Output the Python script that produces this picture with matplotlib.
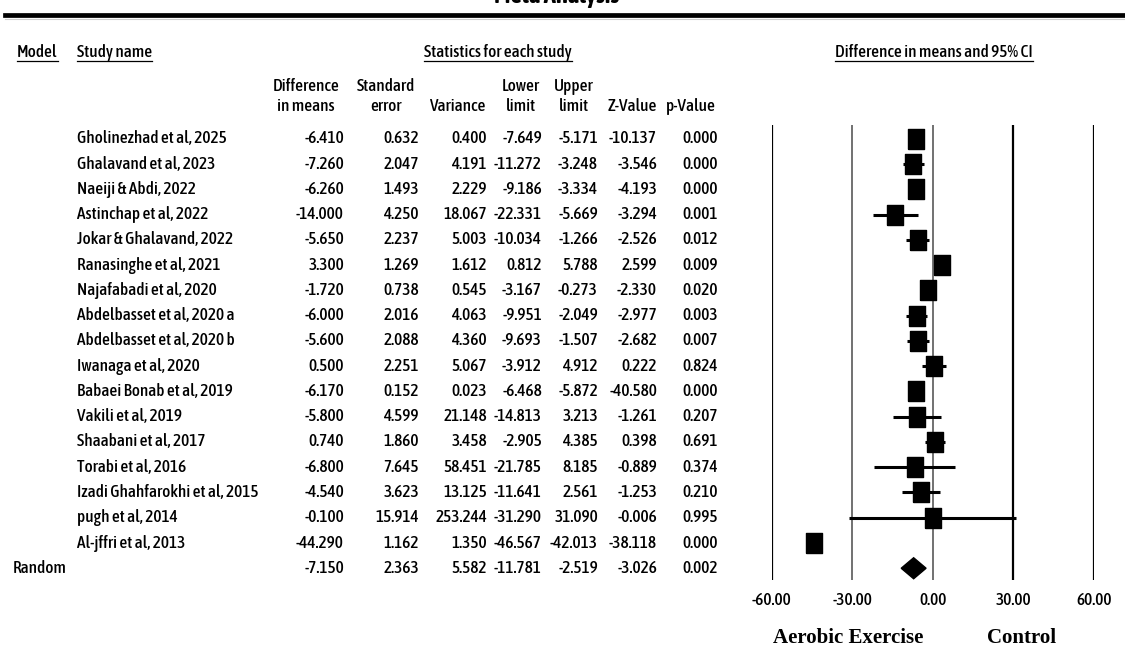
import matplotlib
matplotlib.use("Agg")
import matplotlib.pyplot as plt
import matplotlib.transforms as mtransforms
from matplotlib.lines import Line2D
from matplotlib.patches import Polygon
from matplotlib import font_manager as fm
from matplotlib.textpath import TextPath

# ---------------- data ----------------
studies = [
    "Gholinezhad et al, 2025", "Ghalavand et al, 2023", "Naeiji & Abdi, 2022",
    "Astinchap et al, 2022", "Jokar & Ghalavand, 2022", "Ranasinghe et al, 2021",
    "Najafabadi et al, 2020", "Abdelbasset et al, 2020 a", "Abdelbasset et al, 2020 b",
    "Iwanaga et al, 2020", "Babaei Bonab et al, 2019", "Vakili et al, 2019",
    "Shaabani et al, 2017", "Torabi et al, 2016", "Izadi Ghahfarokhi et al, 2015",
    "pugh et al, 2014", "Al-jffri et al, 2013",
]
diff = [-6.410, -7.260, -6.260, -14.000, -5.650, 3.300, -1.720, -6.000, -5.600,
        0.500, -6.170, -5.800, 0.740, -6.800, -4.540, -0.100, -44.290]
se = [0.632, 2.047, 1.493, 4.250, 2.237, 1.269, 0.738, 2.016, 2.088,
      2.251, 0.152, 4.599, 1.860, 7.645, 3.623, 15.914, 1.162]
variance = [0.400, 4.191, 2.229, 18.067, 5.003, 1.612, 0.545, 4.063, 4.360,
            5.067, 0.023, 21.148, 3.458, 58.451, 13.125, 253.244, 1.350]
lower = [-7.649, -11.272, -9.186, -22.331, -10.034, 0.812, -3.167, -9.951, -9.693,
         -3.912, -6.468, -14.813, -2.905, -21.785, -11.641, -31.290, -46.567]
upper = [-5.171, -3.248, -3.334, -5.669, -1.266, 5.788, -0.273, -2.049, -1.507,
         4.912, -5.872, 3.213, 4.385, 8.185, 2.561, 31.090, -42.013]
zval = [-10.137, -3.546, -4.193, -3.294, -2.526, 2.599, -2.330, -2.977, -2.682,
        0.222, -40.580, -1.261, 0.398, -0.889, -1.253, -0.006, -38.118]
pval = [0.000, 0.000, 0.000, 0.001, 0.012, 0.009, 0.020, 0.003, 0.007,
        0.824, 0.000, 0.207, 0.691, 0.374, 0.210, 0.995, 0.000]

pooled_label = "Random"
pooled_diff, pooled_se, pooled_var = -7.150, 2.363, 5.582
pooled_lower, pooled_upper = -11.781, -2.519
pooled_z, pooled_p = -3.026, 0.002

xticks = [-60, -30, 0, 30, 60]
head_line1 = ["Difference", "Standard", "", "Lower", "Upper", "", ""]
head_line2 = ["in means", "error", "Variance", "limit", "limit", "Z-Value", "p-Value"]
title = "Meta Analysis"
left_label = "Aerobic Exercise"
right_label = "Control"

# ---------------- fonts ----------------
available = {f.name for f in fm.fontManager.ttflist}


def pick(cands):
    for c in cands:
        if c in available:
            return c
    return "DejaVu Sans"


SANS = pick(["Asap Condensed", "Sofia Sans Condensed", "Archivo Narrow",
             "IBM Plex Sans Condensed", "Liberation Sans"])
SERIF = pick(["Liberation Serif", "Tinos", "DejaVu Serif"])
WT = 500


def width_px(text, family, size, weight="normal"):
    fp = fm.FontProperties(family=family, size=size, weight=weight)
    return TextPath((0, 0), text, prop=fp).get_extents().width * 100 / 72


FS = 10 * 148 / width_px("Gholinezhad et al, 2025", SANS, 10, WT)
FS_LAB = 10 * 150 / width_px(left_label, SERIF, 10, "bold")
FS_TITLE = 10 * 123 / width_px(title, SANS, 10, "bold")
plt.rcParams["font.family"] = [SANS, "DejaVu Sans"]
plt.rcParams["font.weight"] = WT

# ---------------- layout ----------------
W, H = 1125, 651
fig = plt.figure(figsize=(W / 100, H / 100), dpi=100)


def fx(px):
    return px / W


def fy(py):
    return 1 - py / H


ROW0, STEP = 139.0, 25.25
ax_top, ax_bot = 125.0, 580.0
xl_px, xr_px = 771.7, 1094.0
ax = fig.add_axes([fx(xl_px), fy(ax_bot), (xr_px - xl_px) / W, (ax_bot - ax_top) / H])
ax.set_xlim(-60, 60)
ax.set_ylim((ax_bot - ROW0) / STEP, (ax_top - ROW0) / STEP)
for s in ax.spines.values():
    s.set_visible(False)
ax.set_yticks([])
ax.set_xticks(xticks, labels=[f"{v:.2f}" for v in xticks])
ax.tick_params(axis="x", length=0, pad=8.5, labelsize=FS)

for v in xticks:
    if v in (-30, 0):
        ax.axvline(v, color="#4a4a4a", lw=1.1, zorder=1)
    else:
        ax.axvline(v, color="black", lw=1.6, zorder=1)

n = len(studies)
rows = list(range(n))
ax.hlines(rows, lower, upper, color="black", lw=2.2, zorder=3)
rect = [(-0.39, -0.5), (0.39, -0.5), (0.39, 0.5), (-0.39, 0.5), (-0.39, -0.5)]
ax.plot(diff, rows, linestyle="none", marker=rect, ms=14.4, color="black", zorder=4)

prow = n
h = 10.5 / STEP
ax.add_patch(Polygon([(pooled_lower, prow), (pooled_diff, prow - h),
                      (pooled_upper, prow), (pooled_diff, prow + h)],
                     closed=True, facecolor="black", edgecolor="black", zorder=4))

# ---------------- table ----------------
trans = mtransforms.blended_transform_factory(fig.transFigure, ax.transData)
right_edges = [344, 419, 487, 542, 598, 657, 718]
head_centers = [306, 386, 458, 521, 574, 632, 690]
columns = [diff, se, variance, lower, upper, zval, pval]
pooled_vals = [pooled_diff, pooled_se, pooled_var, pooled_lower, pooled_upper, pooled_z, pooled_p]

for i, name in enumerate(studies):
    ax.text(fx(77), i, name, transform=trans, ha="left", va="center", fontsize=FS)
    for j, col in enumerate(columns):
        ax.text(fx(right_edges[j]), i, f"{col[i]:.3f}", transform=trans,
                ha="right", va="center", fontsize=FS)
ax.text(fx(13), prow, pooled_label, transform=trans, ha="left", va="center", fontsize=FS)
for j, v in enumerate(pooled_vals):
    ax.text(fx(right_edges[j]), prow, f"{v:.3f}", transform=trans,
            ha="right", va="center", fontsize=FS)

for j in range(len(head_centers)):
    if head_line1[j]:
        fig.text(fx(head_centers[j]), fy(91), head_line1[j], ha="center", va="baseline", fontsize=FS)
    fig.text(fx(head_centers[j]), fy(111), head_line2[j], ha="center", va="baseline", fontsize=FS)

headers = [
    fig.text(fx(17), fy(57), "Model", ha="left", va="baseline", fontsize=FS),
    fig.text(fx(77), fy(57), "Study name", ha="left", va="baseline", fontsize=FS),
    fig.text(fx(498), fy(57), "Statistics for each study", ha="center", va="baseline", fontsize=FS),
    fig.text(fx(934), fy(57), "Difference in means and 95% CI", ha="center", va="baseline", fontsize=FS),
]

fig.text(fx(557), fy(3), title, ha="center", va="baseline", fontsize=FS_TITLE, fontweight="bold")
fig.add_artist(Line2D([fx(5), 1], [fy(15), fy(15)], color="black", lw=3.4))
fig.add_artist(Line2D([fx(5), 1], [fy(19), fy(19)], color="#cfcfcf", lw=0.8))

fig.text(fx(848.5), fy(643), left_label, ha="center", va="baseline", fontsize=FS_LAB,
         fontweight="bold", family=[SERIF, "DejaVu Serif"])
fig.text(fx(1021.5), fy(643), right_label, ha="center", va="baseline", fontsize=FS_LAB,
         fontweight="bold", family=[SERIF, "DejaVu Serif"])

fig.canvas.draw()
renderer = fig.canvas.get_renderer()
inv = fig.transFigure.inverted()
for t in headers:
    bb = t.get_window_extent(renderer)
    (x0, _), (x1, _) = inv.transform([(bb.x0, bb.y0), (bb.x1, bb.y0)])
    fig.add_artist(Line2D([x0, x1], [fy(61), fy(61)], color="black", lw=0.9))

fig.savefig("out.png", dpi=100, facecolor="white")
